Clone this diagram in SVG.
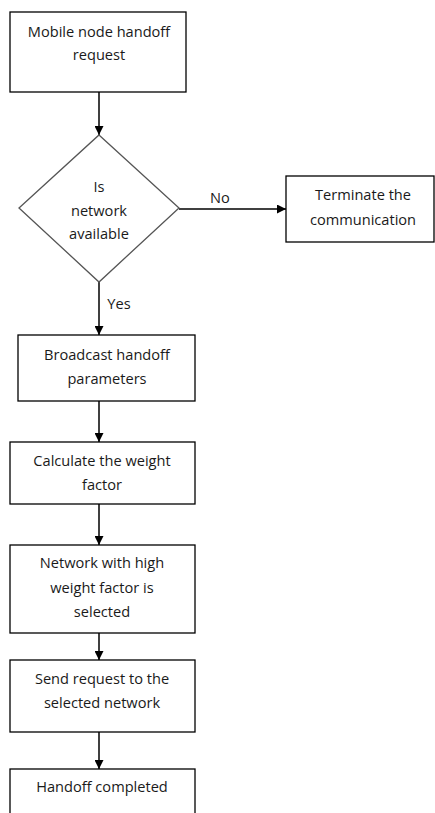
<svg xmlns="http://www.w3.org/2000/svg" width="435" height="813" viewBox="0 0 435 813">
  <style>
    .box { fill: #fff; stroke: #000; stroke-width: 1.3; }
    .dia { fill: #fff; stroke: #555; stroke-width: 1.3; }
    .t { font-family: "Open Sans", "DejaVu Sans", sans-serif; font-size: 14.6px; fill: #1a1a1a; text-anchor: middle; }
    .edge { stroke: #000; stroke-width: 1.5; fill: none; marker-end: url(#arrow); }
  </style>
  <defs>
    <marker id="arrow" viewBox="0 0 10 10" refX="10" refY="5" markerWidth="9" markerHeight="9" markerUnits="userSpaceOnUse" orient="auto">
      <path d="M0,0 L10,5 L0,10 Z" fill="#000"/>
    </marker>
  </defs>
  <rect width="435" height="813" fill="#fff"/>

  <g id="connectors">
    <line class="edge" x1="99" y1="92" x2="99" y2="135"/>
    <line class="edge" x1="179" y1="209" x2="286" y2="209"/>
    <line class="edge" x1="99" y1="282" x2="99" y2="335"/>
    <line class="edge" x1="99" y1="401" x2="99" y2="442"/>
    <line class="edge" x1="99" y1="504" x2="99" y2="545"/>
    <line class="edge" x1="99" y1="633" x2="99" y2="660"/>
    <line class="edge" x1="99" y1="732" x2="99" y2="769"/>
    <text class="t" x="220" y="203">No</text>
    <text class="t" x="119" y="309">Yes</text>
  </g>

  <g id="start">
    <rect class="box" x="10" y="12" width="176" height="80"/>
    <text class="t" x="99" y="37">Mobile node handoff</text>
    <text class="t" x="99" y="60">request</text>
  </g>

  <g id="decision">
    <polygon class="dia" points="99,135 179,208 99,282 19,208"/>
    <text class="t" x="99" y="192">Is</text>
    <text class="t" x="99" y="216">network</text>
    <text class="t" x="99" y="239">available</text>
  </g>

  <g id="terminate">
    <rect class="box" x="286" y="176" width="148" height="66"/>
    <text class="t" x="363" y="200">Terminate the</text>
    <text class="t" x="363" y="225">communication</text>
  </g>

  <g id="broadcast">
    <rect class="box" x="18" y="335" width="177" height="66"/>
    <text class="t" x="107" y="360">Broadcast handoff</text>
    <text class="t" x="107" y="384">parameters</text>
  </g>

  <g id="calculate">
    <rect class="box" x="10" y="442" width="185" height="62"/>
    <text class="t" x="102" y="466">Calculate the weight</text>
    <text class="t" x="102" y="490">factor</text>
  </g>

  <g id="select">
    <rect class="box" x="10" y="545" width="185" height="88"/>
    <text class="t" x="102" y="568">Network with high</text>
    <text class="t" x="102" y="593">weight factor is</text>
    <text class="t" x="102" y="617">selected</text>
  </g>

  <g id="send">
    <rect class="box" x="10" y="660" width="185" height="72"/>
    <text class="t" x="102" y="684">Send request to the</text>
    <text class="t" x="102" y="708">selected network</text>
  </g>

  <g id="completed">
    <rect class="box" x="10" y="769" width="185" height="60"/>
    <text class="t" x="102" y="792">Handoff completed</text>
  </g>
</svg>
